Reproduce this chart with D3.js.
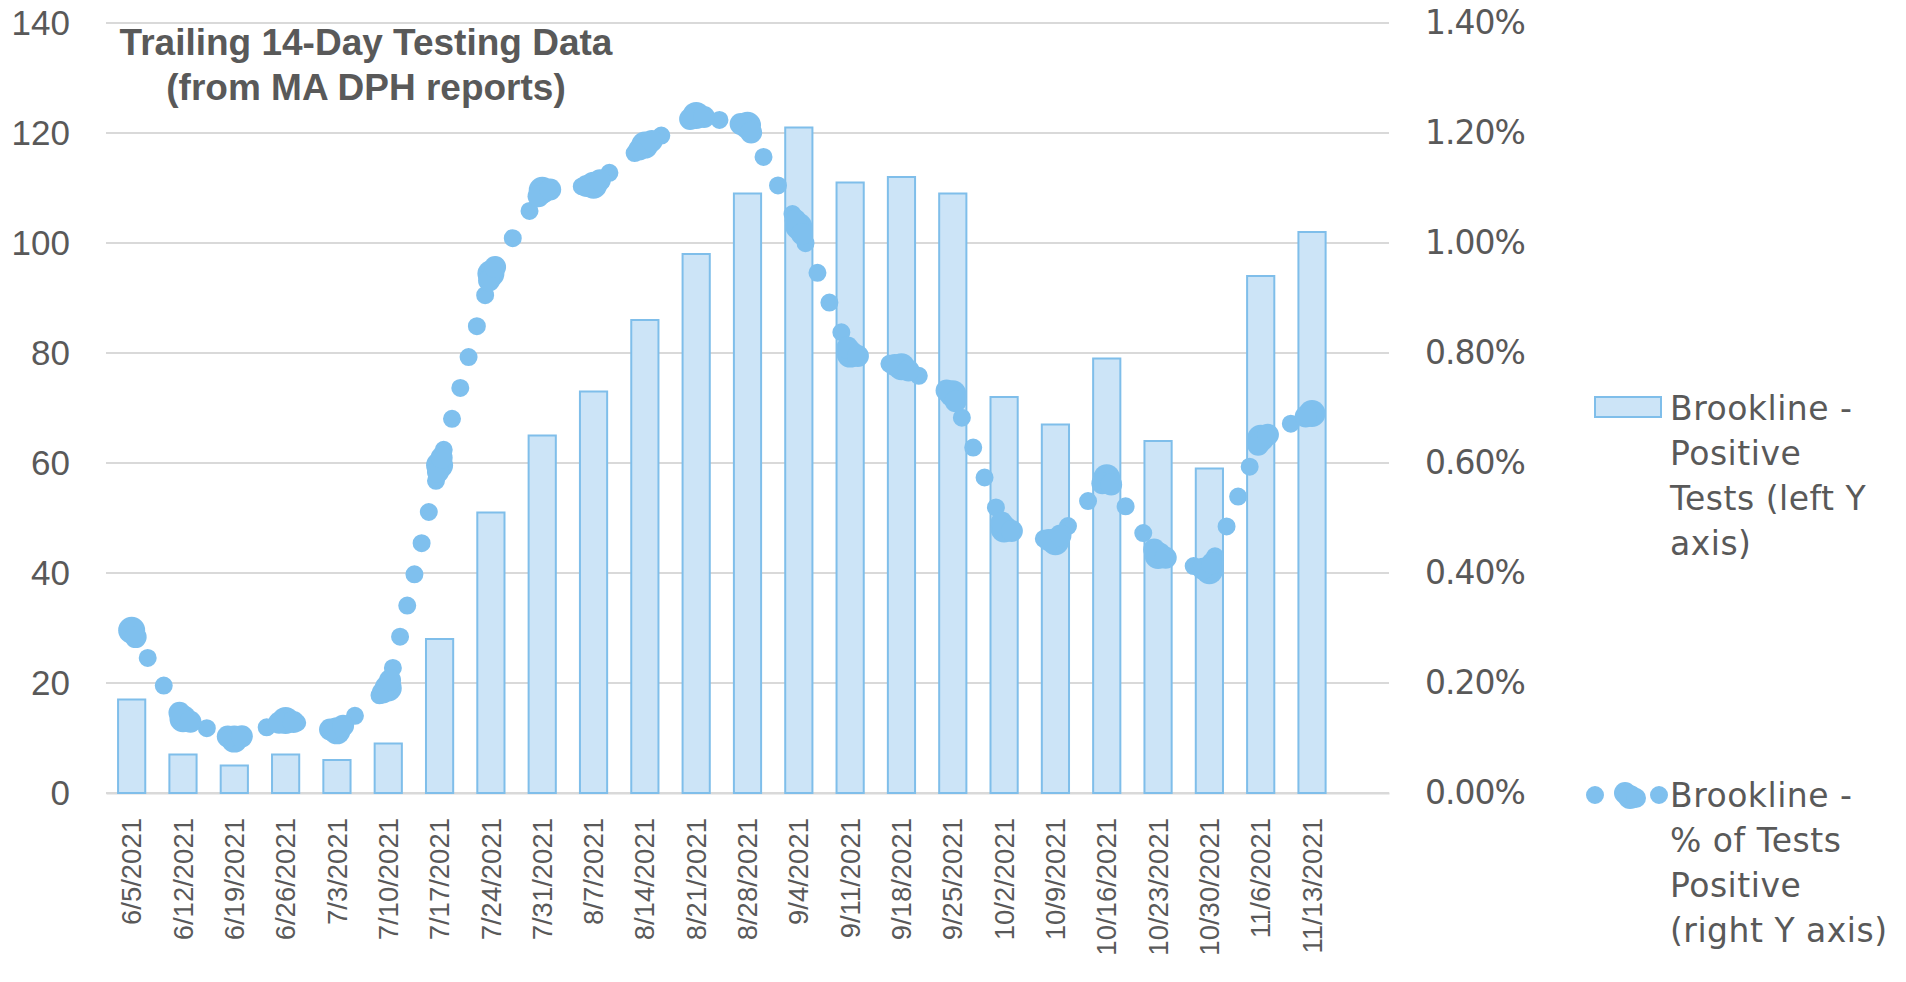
<!DOCTYPE html>
<html>
<head>
<meta charset="utf-8">
<script src="https://cdn.jsdelivr.net/npm/d3@7"></script>
<style>
  html, body { margin: 0; padding: 0; background: #fff; }
  svg { display: block; }
</style>
</head>
<body>
<div class="chart"></div>
<script>
// weekly testing data, Brookline (trailing 14 days)
var weeks = ["6/5/2021","6/12/2021","6/19/2021","6/26/2021","7/3/2021","7/10/2021",
  "7/17/2021","7/24/2021","7/31/2021","8/7/2021","8/14/2021","8/21/2021","8/28/2021",
  "9/4/2021","9/11/2021","9/18/2021","9/25/2021","10/2/2021","10/9/2021","10/16/2021",
  "10/23/2021","10/30/2021","11/6/2021","11/13/2021"];
var positiveTests = [17,7,5,7,6,9,28,51,65,73,86,98,109,121,111,112,109,72,67,79,64,59,94,102];
var pctPositive = [0.00296,0.00135,0.00098,0.00132,0.00113,0.00191,0.00596,0.00944,0.01096,
  0.01105,0.01178,0.01232,0.01214,0.01030,0.00798,0.00775,0.00726,0.00480,0.00457,0.00573,
  0.00432,0.00404,0.00645,0.00690];
var leftTicks = [0,20,40,60,80,100,120,140];
var rightTicks = [0,0.002,0.004,0.006,0.008,0.010,0.012,0.014];
var titleLines = ["Trailing 14-Day Testing Data", "(from MA DPH reports)"];
var barLegend = ["Brookline -", "Positive", "Tests (left Y", "axis)"];
var dotLegend = ["Brookline -", "% of Tests", "Positive", "(right Y axis)"];

var width = 1906, height = 982;
var plot = {left: 106, right: 1389, top: 23, bottom: 793};
var textColor = "#595959", gridColor = "#d9d9d9";
var barFill = "#cce4f7", barStroke = "#7fbeea", dotColor = "#7fc0ee";

var svg = d3.select(".chart").append("svg")
    .attr("width", width)
    .attr("height", height);

// one extra empty slot at the right end, like the original
var xScale = d3.scaleBand()
    .domain(weeks.concat([""]))
    .range([plot.left, plot.right])
    .paddingInner(0.47)
    .paddingOuter(0.235);

var yLeft = d3.scaleLinear().domain([0, 140]).range([plot.bottom, plot.top]);
var yRight = d3.scaleLinear().domain([0, 0.014]).range([plot.bottom, plot.top]);

function cx(d) { return xScale(d) + xScale.bandwidth() / 2; }

// gridlines
svg.append("g").selectAll("line")
    .data(leftTicks)
    .join("line")
    .attr("x1", plot.left).attr("x2", plot.right)
    .attr("y1", function(d) { return yLeft(d); })
    .attr("y2", function(d) { return yLeft(d); })
    .attr("stroke", gridColor)
    .attr("stroke-width", 2);

// left axis
var leftAxis = svg.append("g")
    .attr("transform", "translate(" + plot.left + ",0)")
    .call(d3.axisLeft(yLeft).tickValues(leftTicks).tickSize(0).tickPadding(36));
leftAxis.select(".domain").remove();
leftAxis.selectAll("text")
    .attr("fill", textColor)
    .style("font-family", "'Liberation Sans', Arial, sans-serif")
    .style("font-size", "35px");

// right axis
var rightAxis = svg.append("g")
    .attr("transform", "translate(" + plot.right + ",0)")
    .call(d3.axisRight(yRight).tickValues(rightTicks).tickSize(0).tickPadding(36)
      .tickFormat(d3.format(".2%")));
rightAxis.select(".domain").remove();
rightAxis.selectAll("text")
    .attr("fill", textColor)
    .style("font-family", "'DejaVu Sans', sans-serif")
    .style("font-size", "33px")
    .style("letter-spacing", "-1px");

// bottom axis, rotated date labels
var bottomAxis = svg.append("g")
    .attr("transform", "translate(0," + plot.bottom + ")")
    .call(d3.axisBottom(xScale).tickSize(0).tickPadding(0));
bottomAxis.select(".domain")
    .attr("stroke", gridColor)
    .attr("stroke-width", 2);
bottomAxis.selectAll("text")
    .attr("fill", textColor)
    .attr("text-anchor", "end")
    .attr("transform", "translate(0,25) rotate(-90)")
    .attr("x", 0)
    .attr("y", 0)
    .attr("dy", "0.35em")
    .style("font-family", "'Liberation Sans', Arial, sans-serif")
    .style("font-size", "27.5px");

// bars
svg.append("g").selectAll("rect")
    .data(positiveTests)
    .join("rect")
    .attr("x", function(d, i) { return xScale(weeks[i]); })
    .attr("y", function(d) { return yLeft(d); })
    .attr("width", xScale.bandwidth())
    .attr("height", function(d) { return plot.bottom - yLeft(d); })
    .attr("fill", barFill)
    .attr("stroke", barStroke)
    .attr("stroke-width", 2);

// % positive: thick round-dot line plus clumpy markers
var pts = pctPositive.map(function(d, i) { return [cx(weeks[i]), yRight(d)]; });

svg.append("path")
    .datum(pts)
    .attr("d", d3.line())
    .attr("fill", "none")
    .attr("stroke", dotColor)
    .attr("stroke-width", 18)
    .attr("stroke-linecap", "round")
    .attr("stroke-dasharray", "0 32");

// each marker is a small clump of circles stretched along the line
function unit(a, b) {
  var dx = b[0] - a[0], dy = b[1] - a[1], l = Math.sqrt(dx * dx + dy * dy);
  return [dx / l, dy / l];
}
var blobs = [];
pts.forEach(function(p, i) {
  blobs.push({x: p[0], y: p[1], r: 13.5});
  if (i > 0) {
    var u = unit(p, pts[i - 1]);
    blobs.push({x: p[0] + u[0] * 7, y: p[1] + u[1] * 7, r: 11});
  }
  if (i < pts.length - 1) {
    var v = unit(p, pts[i + 1]);
    blobs.push({x: p[0] + v[0] * 8, y: p[1] + v[1] * 8, r: 11});
  }
});
svg.append("g").selectAll("circle")
    .data(blobs)
    .join("circle")
    .attr("cx", function(d) { return d.x; })
    .attr("cy", function(d) { return d.y; })
    .attr("r", function(d) { return d.r; })
    .attr("fill", dotColor);

// title
svg.append("text")
    .attr("text-anchor", "middle")
    .attr("fill", textColor)
    .style("font-family", "'Liberation Sans', Arial, sans-serif")
    .style("font-weight", "bold")
    .style("font-size", "37px")
    .selectAll("tspan")
    .data(titleLines)
    .join("tspan")
    .attr("x", 366)
    .attr("y", function(d, i) { return 55 + i * 45; })
    .text(function(d) { return d; });

// legend
var legendFont = "'DejaVu Sans', sans-serif";
var lg = svg.append("g");

lg.append("rect")
    .attr("x", 1595).attr("y", 397)
    .attr("width", 66).attr("height", 20)
    .attr("fill", barFill)
    .attr("stroke", barStroke)
    .attr("stroke-width", 2);

function legendText(lines, y0) {
  lg.append("text")
      .attr("fill", textColor)
      .style("font-family", legendFont)
      .style("font-size", "33px")
      .style("letter-spacing", "0.5px")
      .selectAll("tspan")
      .data(lines)
      .join("tspan")
      .attr("x", 1670)
      .attr("y", function(d, i) { return y0 + i * 45; })
      .text(function(d) { return d; });
}
legendText(barLegend, 420);
legendText(dotLegend, 807);

lg.append("path")
    .attr("d", d3.line()([[1595, 795], [1661, 795]]))
    .attr("stroke", dotColor)
    .attr("stroke-width", 18)
    .attr("stroke-linecap", "round")
    .attr("stroke-dasharray", "0 32");
lg.selectAll("circle.mk")
    .data([[1625, 793, 11], [1630, 797, 12], [1636, 798, 10]])
    .join("circle")
    .attr("class", "mk")
    .attr("cx", function(d) { return d[0]; })
    .attr("cy", function(d) { return d[1]; })
    .attr("r", function(d) { return d[2]; })
    .attr("fill", dotColor);
</script>
</body>
</html>
